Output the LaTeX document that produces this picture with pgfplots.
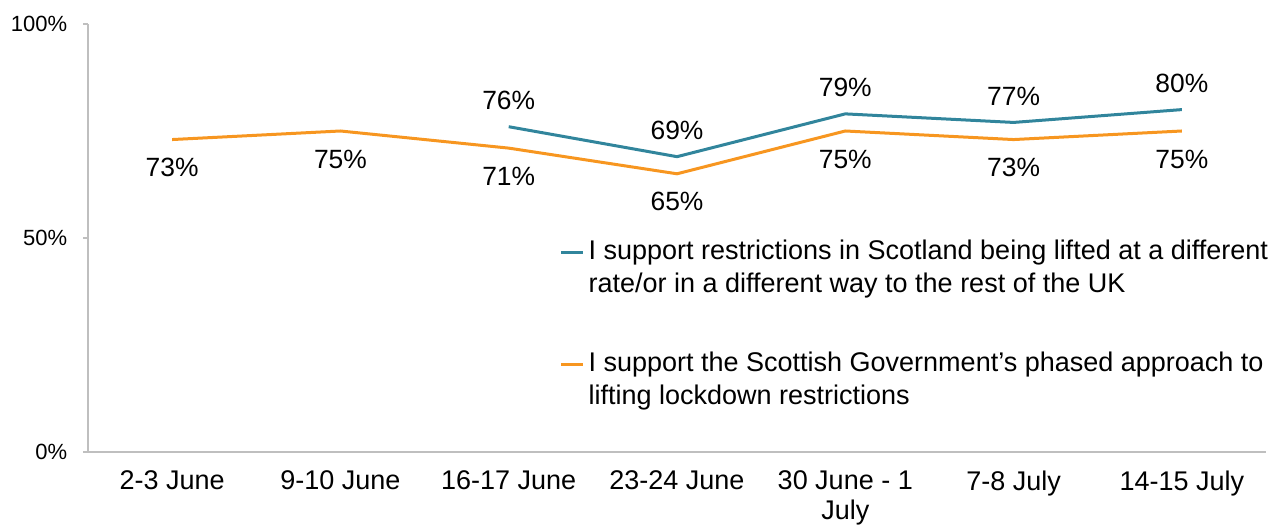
\documentclass[border=0pt]{standalone}
\usepackage{fontspec}
\setmainfont{Liberation Sans}
\usepackage{pgfplots}
\pgfplotsset{compat=1.18}
\definecolor{tealc}{HTML}{31859C}
\definecolor{orangec}{HTML}{F79620}
\definecolor{axisgray}{HTML}{BFBFBF}
\begin{document}
\fontsize{11pt}{13.5pt}\selectfont
\begin{tikzpicture}
\useasboundingbox (0,0) rectangle (636pt,262pt);
\begin{axis}[
  at={(44pt,36pt)}, anchor=south west,
  scale only axis, width=589pt, height=214pt,
  xmin=-0.5, xmax=6.5, ymin=0, ymax=100,
  axis lines*=left,
  axis line style={draw=axisgray, line width=0.6pt},
  xtick={0,...,6},
  xticklabels={2-3 June,9-10 June,16-17 June,23-24 June,{30 June - 1\\July},7-8 July,14-15 July},
  xticklabel style={align=center, anchor=north, yshift=-3pt, font=\fontsize{13.5pt}{15pt}\selectfont},
  xtick style={draw=none},
  ytick={0,50,100},
  yticklabels={0\%,50\%,100\%},
  yticklabel style={xshift=-4pt, font=\fontsize{11pt}{13.5pt}\selectfont},
  ytick style={draw=axisgray, line width=0.6pt},
  tick align=outside, major tick length=2.5pt,
  clip=false,
  legend style={at={(0.40,0.505)}, anchor=north west, draw=none, fill=none,
    cells={align=left, anchor=base west}, row sep=24pt, inner sep=0pt,
    font=\fontsize{13.5pt}{16.5pt}\selectfont},
  legend image code/.code={\draw[#1, line width=1.5pt] (0pt,20pt) -- (11pt,20pt);},
]
\addplot[color=tealc, line width=1.5pt,
  nodes near coords={\pgfmathprintnumber[assume math mode=true]{\pgfplotspointmeta}\%},
  every node near coord/.style={anchor=center, yshift=13pt, black, font=\fontsize{13.2pt}{15pt}\selectfont},
  point meta=y] coordinates {(2,76) (3,69) (4,79) (5,77) (6,80)};
\addlegendentry{I support restrictions in Scotland being lifted at a different\\rate/or in a different way to the rest of the UK}
\addplot[color=orangec, line width=1.5pt,
  nodes near coords={\pgfmathprintnumber[assume math mode=true]{\pgfplotspointmeta}\%},
  every node near coord/.style={anchor=center, yshift=-14pt, black, font=\fontsize{13.2pt}{15pt}\selectfont},
  point meta=y] coordinates {(0,73) (1,75) (2,71) (3,65) (4,75) (5,73) (6,75)};
\addlegendentry{I support the Scottish Government's phased approach to\\lifting lockdown restrictions}
\end{axis}
\end{tikzpicture}
\end{document}
